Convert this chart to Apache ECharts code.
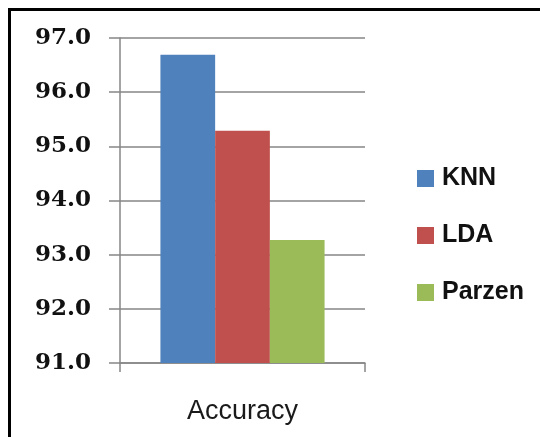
<!DOCTYPE html>
<html>
<head>
<meta charset="utf-8">
<script src="https://cdn.jsdelivr.net/npm/echarts@6/dist/echarts.min.js"></script>
<style>
html,body{margin:0;padding:0;background:#fff;}
#c{width:540px;height:437px;}
</style>
</head>
<body>
<div id="c"></div>
<script>
var categories = ['Accuracy'];
var seriesNames = ['KNN', 'LDA', 'Parzen'];
var knnValues = [96.69];
var ldaValues = [95.29];
var parzenValues = [93.27];
var yTicks = [91, 92, 93, 94, 95, 96, 97];
var colors = ['#4F81BD', '#C0504D', '#9BBB59'];

var chart = echarts.init(document.getElementById('c'), null, {renderer: 'canvas'});
var values = [knnValues, ldaValues, parzenValues];
var option = {
  animation: false,
  backgroundColor: '#fff',
  grid: {left: 120, top: 38, right: 175, bottom: 74, containLabel: false},
  legend: {
    orient: 'vertical',
    left: 417,
    top: 166,
    padding: 0,
    itemWidth: 17,
    itemHeight: 17,
    itemGap: 32,
    icon: 'rect',
    textStyle: {fontFamily: 'Liberation Sans, Arial', fontSize: 25, fontWeight: 'bold', color: '#111', padding: [0, 0, 0, 3]},
    data: seriesNames
  },
  xAxis: {
    type: 'category',
    data: categories,
    boundaryGap: true,
    axisLine: {show: true, lineStyle: {color: '#868686', width: 1.5}},
    axisTick: {show: true, length: 9, lineStyle: {color: '#868686', width: 1.5}},
    axisLabel: {margin: 35, fontFamily: 'Liberation Sans, Arial', fontSize: 27, color: '#1a1a1a'}
  },
  yAxis: {
    type: 'value',
    min: yTicks[0],
    max: yTicks[yTicks.length - 1],
    interval: 1,
    axisLine: {show: true, lineStyle: {color: '#868686', width: 1.5}},
    axisTick: {show: true, length: 11, lineStyle: {color: '#868686', width: 1.5}},
    splitLine: {show: true, lineStyle: {color: '#868686', width: 1.5}},
    axisLabel: {
      margin: 29,
      fontFamily: 'DejaVu Serif, Liberation Serif',
      fontSize: 23,
      fontWeight: 'bold',
      color: '#111',
      formatter: function (v) { return v.toFixed(1); }
    }
  },
  series: seriesNames.map(function (n, i) {
    return {
      name: n,
      type: 'bar',
      data: values[i],
      barGap: '0%',
      barCategoryGap: '33%',
      itemStyle: {color: colors[i]}
    };
  }),
  graphic: [{
    type: 'polyline',
    shape: {points: [[9.5, 437], [9.5, 9.5], [540, 9.5]]},
    style: {stroke: '#000', lineWidth: 3, fill: null},
    z: 100
  }]
};
chart.setOption(option);
</script>
</body>
</html>
